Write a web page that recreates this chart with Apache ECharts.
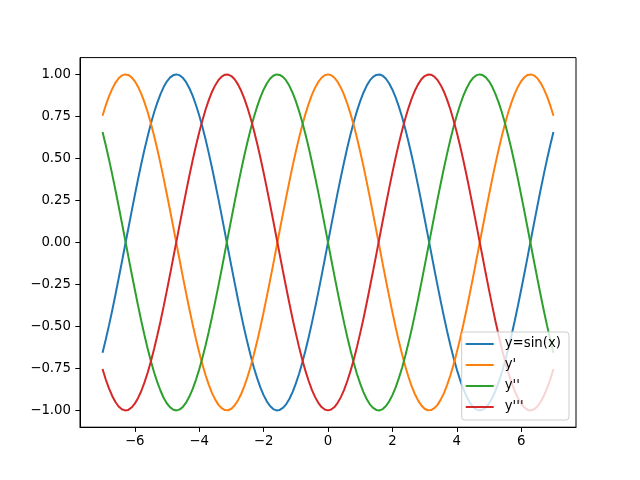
<!DOCTYPE html>
<html><head><meta charset="utf-8">
<script src="https://cdn.jsdelivr.net/npm/echarts@6/dist/echarts.min.js"></script>
<style>html,body{margin:0;padding:0;background:#fff}#c{width:640px;height:480px}</style>
</head><body><div id="c"></div>
<script>
const xs = [-7.0,-6.9,-6.8,-6.7,-6.6,-6.5,-6.4,-6.3,-6.2,-6.1,
-6.0,-5.9,-5.8,-5.7,-5.6,-5.5,-5.4,-5.3,-5.2,-5.1,
-5.0,-4.9,-4.8,-4.7,-4.6,-4.5,-4.4,-4.3,-4.2,-4.1,
-4.0,-3.9,-3.8,-3.7,-3.6,-3.5,-3.4,-3.3,-3.2,-3.1,
-3.0,-2.9,-2.8,-2.7,-2.6,-2.5,-2.4,-2.3,-2.2,-2.1,
-2.0,-1.9,-1.8,-1.7,-1.6,-1.5,-1.4,-1.3,-1.2,-1.1,
-1.0,-0.9,-0.8,-0.7,-0.6,-0.5,-0.4,-0.3,-0.2,-0.1,
0,
0.1,0.2,0.3,0.4,0.5,0.6,0.7,0.8,0.9,1.0,
1.1,1.2,1.3,1.4,1.5,1.6,1.7,1.8,1.9,2.0,
2.1,2.2,2.3,2.4,2.5,2.6,2.7,2.8,2.9,3.0,
3.1,3.2,3.3,3.4,3.5,3.6,3.7,3.8,3.9,4.0,
4.1,4.2,4.3,4.4,4.5,4.6,4.7,4.8,4.9,5.0,
5.1,5.2,5.3,5.4,5.5,5.6,5.7,5.8,5.9,6.0,
6.1,6.2,6.3,6.4,6.5,6.6,6.7,6.8,6.9,7.0];
const ySin = [-0.657,-0.578,-0.494,-0.405,-0.312,-0.215,-0.117,-0.017,0.083,0.182,
0.279,0.374,0.465,0.551,0.631,0.706,0.773,0.832,0.883,0.926,
0.959,0.982,0.996,1.000,0.994,0.978,0.952,0.916,0.872,0.818,
0.757,0.688,0.612,0.530,0.443,0.351,0.256,0.158,0.058,-0.042,
-0.141,-0.239,-0.335,-0.427,-0.516,-0.598,-0.675,-0.746,-0.808,-0.863,
-0.909,-0.946,-0.974,-0.992,-1.000,-0.997,-0.985,-0.964,-0.932,-0.891,
-0.841,-0.783,-0.717,-0.644,-0.565,-0.479,-0.389,-0.296,-0.199,-0.100,
0,
0.100,0.199,0.296,0.389,0.479,0.565,0.644,0.717,0.783,0.841,
0.891,0.932,0.964,0.985,0.997,1.000,0.992,0.974,0.946,0.909,
0.863,0.808,0.746,0.675,0.598,0.516,0.427,0.335,0.239,0.141,
0.042,-0.058,-0.158,-0.256,-0.351,-0.443,-0.530,-0.612,-0.688,-0.757,
-0.818,-0.872,-0.916,-0.952,-0.978,-0.994,-1.000,-0.996,-0.982,-0.959,
-0.926,-0.883,-0.832,-0.773,-0.706,-0.631,-0.551,-0.465,-0.374,-0.279,
-0.182,-0.083,0.017,0.117,0.215,0.312,0.405,0.494,0.578,0.657];
const yD1 = [0.754,0.816,0.869,0.914,0.950,0.977,0.993,1.000,0.997,0.983,
0.960,0.927,0.886,0.835,0.776,0.709,0.635,0.554,0.469,0.378,
0.284,0.187,0.087,-0.012,-0.112,-0.211,-0.307,-0.401,-0.490,-0.575,
-0.654,-0.726,-0.791,-0.848,-0.897,-0.936,-0.967,-0.987,-0.998,-0.999,
-0.990,-0.971,-0.942,-0.904,-0.857,-0.801,-0.737,-0.666,-0.589,-0.505,
-0.416,-0.323,-0.227,-0.129,-0.029,0.071,0.170,0.267,0.362,0.454,
0.540,0.622,0.697,0.765,0.825,0.878,0.921,0.955,0.980,0.995,
1,
0.995,0.980,0.955,0.921,0.878,0.825,0.765,0.697,0.622,0.540,
0.454,0.362,0.267,0.170,0.071,-0.029,-0.129,-0.227,-0.323,-0.416,
-0.505,-0.589,-0.666,-0.737,-0.801,-0.857,-0.904,-0.942,-0.971,-0.990,
-0.999,-0.998,-0.987,-0.967,-0.936,-0.897,-0.848,-0.791,-0.726,-0.654,
-0.575,-0.490,-0.401,-0.307,-0.211,-0.112,-0.012,0.087,0.187,0.284,
0.378,0.469,0.554,0.635,0.709,0.776,0.835,0.886,0.927,0.960,
0.983,0.997,1.000,0.993,0.977,0.950,0.914,0.869,0.816,0.754];
const yD2 = [0.657,0.578,0.494,0.405,0.312,0.215,0.117,0.017,-0.083,-0.182,
-0.279,-0.374,-0.465,-0.551,-0.631,-0.706,-0.773,-0.832,-0.883,-0.926,
-0.959,-0.982,-0.996,-1.000,-0.994,-0.978,-0.952,-0.916,-0.872,-0.818,
-0.757,-0.688,-0.612,-0.530,-0.443,-0.351,-0.256,-0.158,-0.058,0.042,
0.141,0.239,0.335,0.427,0.516,0.598,0.675,0.746,0.808,0.863,
0.909,0.946,0.974,0.992,1.000,0.997,0.985,0.964,0.932,0.891,
0.841,0.783,0.717,0.644,0.565,0.479,0.389,0.296,0.199,0.100,
0,
-0.100,-0.199,-0.296,-0.389,-0.479,-0.565,-0.644,-0.717,-0.783,-0.841,
-0.891,-0.932,-0.964,-0.985,-0.997,-1.000,-0.992,-0.974,-0.946,-0.909,
-0.863,-0.808,-0.746,-0.675,-0.598,-0.516,-0.427,-0.335,-0.239,-0.141,
-0.042,0.058,0.158,0.256,0.351,0.443,0.530,0.612,0.688,0.757,
0.818,0.872,0.916,0.952,0.978,0.994,1.000,0.996,0.982,0.959,
0.926,0.883,0.832,0.773,0.706,0.631,0.551,0.465,0.374,0.279,
0.182,0.083,-0.017,-0.117,-0.215,-0.312,-0.405,-0.494,-0.578,-0.657];
const yD3 = [-0.754,-0.816,-0.869,-0.914,-0.950,-0.977,-0.993,-1.000,-0.997,-0.983,
-0.960,-0.927,-0.886,-0.835,-0.776,-0.709,-0.635,-0.554,-0.469,-0.378,
-0.284,-0.187,-0.087,0.012,0.112,0.211,0.307,0.401,0.490,0.575,
0.654,0.726,0.791,0.848,0.897,0.936,0.967,0.987,0.998,0.999,
0.990,0.971,0.942,0.904,0.857,0.801,0.737,0.666,0.589,0.505,
0.416,0.323,0.227,0.129,0.029,-0.071,-0.170,-0.267,-0.362,-0.454,
-0.540,-0.622,-0.697,-0.765,-0.825,-0.878,-0.921,-0.955,-0.980,-0.995,
-1,
-0.995,-0.980,-0.955,-0.921,-0.878,-0.825,-0.765,-0.697,-0.622,-0.540,
-0.454,-0.362,-0.267,-0.170,-0.071,0.029,0.129,0.227,0.323,0.416,
0.505,0.589,0.666,0.737,0.801,0.857,0.904,0.942,0.971,0.990,
0.999,0.998,0.987,0.967,0.936,0.897,0.848,0.791,0.726,0.654,
0.575,0.490,0.401,0.307,0.211,0.112,0.012,-0.087,-0.187,-0.284,
-0.378,-0.469,-0.554,-0.635,-0.709,-0.776,-0.835,-0.886,-0.927,-0.960,
-0.983,-0.997,-1.000,-0.993,-0.977,-0.950,-0.914,-0.869,-0.816,-0.754];
const seriesNames = ['y=sin(x)', "y'", "y''", "y'''"];
const seriesColors = ['#1f77b4', '#ff7f0e', '#2ca02c', '#d62728'];
const xTicks = [-6,-4,-2,0,2,4,6];
const yTicks = [-1,-0.75,-0.5,-0.25,0,0.25,0.5,0.75,1];

const fmt = (v, d) => (v < 0 ? '\u2212' : '') + Math.abs(v).toFixed(d);
const ys = [ySin, yD1, yD2, yD3];
const chart = echarts.init(document.getElementById('c'), null, {renderer: 'canvas'});
const font = {fontFamily: 'DejaVu Sans', fontSize: 13.3, color: '#000'};
chart.setOption({
  animation: false,
  grid: {left: 80, right: 64, top: 57.6, bottom: 52.8, show: true, borderColor: '#000', borderWidth: 1, backgroundColor: 'transparent'},
  xAxis: {
    type: 'value', min: -7.7, max: 7.7,
    axisLine: {show: true, onZero: false, lineStyle: {color: '#000', width: 1}},
    splitLine: {show: false},
    axisTick: {show: true, inside: false, length: 4.7, lineStyle: {color: '#000', width: 1}, customValues: xTicks},
    axisLabel: Object.assign({margin: 8, customValues: xTicks, formatter: v => fmt(v, 0)}, font)
  },
  yAxis: {
    type: 'value', min: -1.1, max: 1.1,
    axisLine: {show: true, onZero: false, lineStyle: {color: '#000', width: 1}},
    splitLine: {show: false},
    axisTick: {show: true, inside: false, length: 4.7, lineStyle: {color: '#000', width: 1}, customValues: yTicks},
    axisLabel: Object.assign({margin: 9, customValues: yTicks, formatter: v => fmt(v, 2)}, font)
  },
  legend: {
    orient: 'vertical', right: 71, bottom: 60,
    data: seriesNames,
    icon: 'rect', itemWidth: 28, itemHeight: 2, itemGap: 0,
    padding: [1.5, 8, 2.5, 4],
    backgroundColor: 'rgba(255,255,255,0.8)', borderColor: '#cccccc', borderWidth: 1, borderRadius: 3,
    textStyle: {fontFamily: 'DejaVu Sans', fontSize: 13.3, color: '#000', lineHeight: 21, padding: [0, 0, 0, 6]},
    z: 10
  },
  series: seriesNames.map((n, i) => ({
    name: n, type: 'line', showSymbol: false, smooth: false,
    data: xs.map((x, j) => [x, ys[i][j]]),
    lineStyle: {color: seriesColors[i], width: 2},
    itemStyle: {color: seriesColors[i]},
    clip: true
  }))
});
</script></body></html>
